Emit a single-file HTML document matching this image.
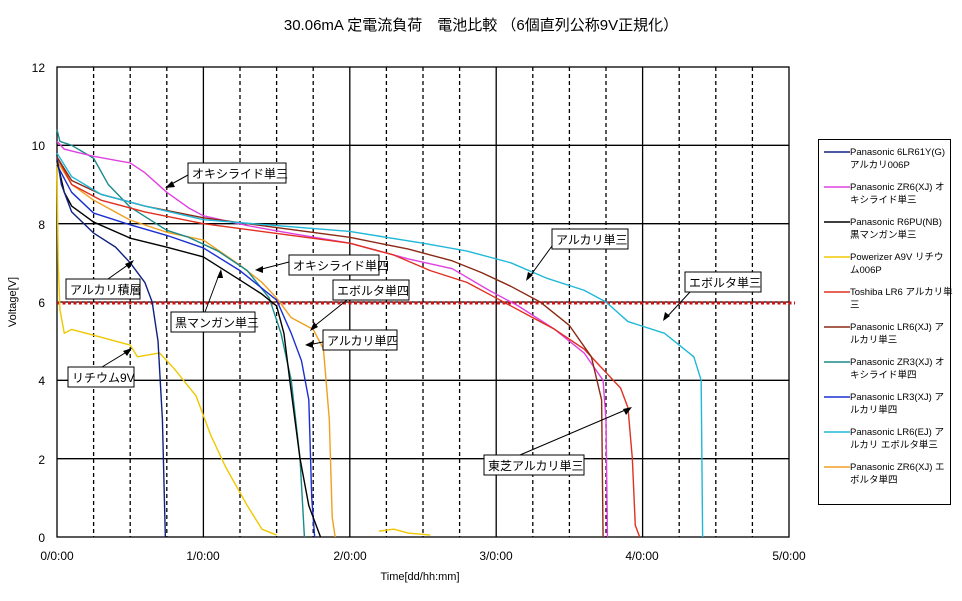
<!DOCTYPE html>
<html><head><meta charset="utf-8"><style>
body{margin:0;background:#fff;width:962px;height:596px;overflow:hidden}
svg text{font-family:"Liberation Sans","Noto Sans CJK JP",sans-serif;fill:#000}
</style></head><body>
<svg width="962" height="596" viewBox="0 0 962 596" xmlns="http://www.w3.org/2000/svg">
<text x="481" y="30" font-size="15" text-anchor="middle">30.06mA 定電流負荷　電池比較 （6個直列公称9V正規化）</text>
<g stroke="#000" stroke-width="1.3" stroke-dasharray="4,3">
<line x1="93.6" y1="67" x2="93.6" y2="537"/><line x1="130.2" y1="67" x2="130.2" y2="537"/><line x1="166.8" y1="67" x2="166.8" y2="537"/>
<line x1="240" y1="67" x2="240" y2="537"/><line x1="276.6" y1="67" x2="276.6" y2="537"/><line x1="313.2" y1="67" x2="313.2" y2="537"/>
<line x1="386.4" y1="67" x2="386.4" y2="537"/><line x1="423" y1="67" x2="423" y2="537"/><line x1="459.6" y1="67" x2="459.6" y2="537"/>
<line x1="532.8" y1="67" x2="532.8" y2="537"/><line x1="569.4" y1="67" x2="569.4" y2="537"/><line x1="606" y1="67" x2="606" y2="537"/>
<line x1="679.2" y1="67" x2="679.2" y2="537"/><line x1="715.8" y1="67" x2="715.8" y2="537"/><line x1="752.4" y1="67" x2="752.4" y2="537"/>
</g>
<g stroke="#000" stroke-width="1.3">
<line x1="203.4" y1="67" x2="203.4" y2="537"/><line x1="349.8" y1="67" x2="349.8" y2="537"/><line x1="496.2" y1="67" x2="496.2" y2="537"/><line x1="642.6" y1="67" x2="642.6" y2="537"/>
<line x1="57" y1="145.3" x2="789" y2="145.3"/><line x1="57" y1="223.7" x2="789" y2="223.7"/><line x1="57" y1="302" x2="789" y2="302"/><line x1="57" y1="380.3" x2="789" y2="380.3"/><line x1="57" y1="458.7" x2="789" y2="458.7"/>
<rect x="57" y="67" width="732" height="470" fill="none"/>
</g>
<g font-size="12" text-anchor="end">
<text x="45" y="72">12</text><text x="45" y="150">10</text><text x="45" y="229">8</text><text x="45" y="307">6</text><text x="45" y="385">4</text><text x="45" y="464">2</text><text x="45" y="542">0</text>
</g>
<g font-size="12" text-anchor="middle">
<text x="57" y="560">0/0:00</text><text x="203" y="560">1/0:00</text><text x="350" y="560">2/0:00</text><text x="496" y="560">3/0:00</text><text x="642" y="560">4/0:00</text><text x="789" y="560">5/0:00</text>
</g>
<text x="420" y="580" font-size="11" text-anchor="middle">Time[dd/hh:mm]</text>
<text transform="translate(16,302) rotate(-90)" font-size="11" text-anchor="middle">Voltage[V]</text>
<line x1="57" y1="303" x2="795" y2="303" stroke="#d01010" stroke-width="3" stroke-dasharray="3,2.5"/>
<g transform="translate(57,537) scale(146.4,-39.17)" fill="none" stroke-width="1.4" stroke-linejoin="round">
<polyline vector-effect="non-scaling-stroke" stroke="#f0c800" points="0,9.6 0.008,7 0.02,5.8 0.05,5.2 0.1,5.3 0.3,5.1 0.5,4.9 0.55,4.6 0.7,4.7 0.8,4.3 0.95,3.6 1.05,2.6 1.15,1.8 1.3,0.8 1.4,0.2 1.5,0.05"/>
<polyline vector-effect="non-scaling-stroke" stroke="#f0c800" points="2.2,0.15 2.3,0.2 2.4,0.1 2.55,0.05"/>
<polyline vector-effect="non-scaling-stroke" stroke="#f0a020" points="0,9.6 0.1,9.0 0.25,8.6 0.5,8.09 0.75,7.78 1.0,7.58 1.25,6.94 1.4,6.5 1.5,6.1 1.6,5.6 1.75,5.3 1.82,4.8 1.86,3 1.88,0.5 1.9,0"/>
<polyline vector-effect="non-scaling-stroke" stroke="#1a8a8a" points="0,10.4 0.02,10.1 0.1,10.0 0.25,9.67 0.35,9.0 0.5,8.42 0.75,7.83 0.9,7.65 1.1,7.3 1.3,6.8 1.45,6.1 1.53,5.2 1.6,4.0 1.66,2 1.69,0"/>
<polyline vector-effect="non-scaling-stroke" stroke="#1a30d0" points="0,9.5 0.1,8.8 0.25,8.27 0.5,7.97 0.75,7.7 1.0,7.38 1.25,6.8 1.5,6.05 1.6,5.2 1.67,4.5 1.72,3.5 1.74,1 1.76,0"/>
<polyline vector-effect="non-scaling-stroke" stroke="#000" points="0,9.6 0.05,8.8 0.1,8.45 0.25,8.04 0.5,7.63 0.75,7.4 1.0,7.15 1.25,6.56 1.4,6.2 1.5,5.9 1.55,5.2 1.59,4.0 1.66,2 1.72,0.8 1.8,0"/>
<polyline vector-effect="non-scaling-stroke" stroke="#102080" points="0,9.7 0.03,9 0.1,8.3 0.25,7.76 0.4,7.4 0.5,7.0 0.6,6.5 0.65,6.0 0.69,5 0.72,3 0.74,0"/>
<polyline vector-effect="non-scaling-stroke" stroke="#e040e0" points="0,10.1 0.05,9.9 0.25,9.72 0.5,9.55 0.6,9.3 0.75,8.8 0.9,8.4 1,8.2 1.3,7.95 1.6,7.75 2,7.5 2.4,7.1 2.7,6.85 2.95,6.3 3.15,5.9 3.4,5.3 3.6,4.7 3.73,4 3.75,3 3.76,0"/>
<polyline vector-effect="non-scaling-stroke" stroke="#e03020" points="0,9.7 0.1,9 0.3,8.6 0.6,8.3 1,8.0 1.5,7.75 2,7.5 2.3,7.2 2.55,6.8 2.8,6.5 3,6.1 3.2,5.7 3.4,5.3 3.6,4.8 3.75,4.2 3.85,3.8 3.9,3.3 3.93,2 3.95,0.3 3.98,0"/>
<polyline vector-effect="non-scaling-stroke" stroke="#8a2a15" points="0,9.7 0.1,9.1 0.3,8.75 0.6,8.45 1,8.15 1.5,7.9 2,7.65 2.4,7.35 2.7,7.05 2.9,6.75 3.1,6.4 3.3,6.0 3.5,5.4 3.65,4.6 3.72,3.5 3.73,0"/>
<polyline vector-effect="non-scaling-stroke" stroke="#20b8d8" points="0,9.8 0.1,9.2 0.3,8.75 0.6,8.45 1,8.1 1.5,7.95 2,7.8 2.5,7.5 2.8,7.3 3.1,7.0 3.35,6.6 3.6,6.3 3.75,6 3.9,5.5 4.15,5.2 4.35,4.6 4.4,4 4.41,0"/>
</g>
<g font-size="12" stroke-width="1">
<g fill="none" stroke="#000">
<rect x="188" y="163" width="98" height="20" fill="#fff"/>
<rect x="66" y="279" width="74" height="20" fill="#fff"/>
<rect x="289" y="255" width="90" height="20" fill="#fff"/>
<rect x="171" y="312" width="84" height="20" fill="#fff"/>
<rect x="333" y="280" width="76" height="20" fill="#fff"/>
<rect x="323" y="330" width="74" height="20" fill="#fff"/>
<rect x="68" y="367" width="66" height="20" fill="#fff"/>
<rect x="552" y="229" width="76" height="20" fill="#fff"/>
<rect x="685" y="272" width="76" height="20" fill="#fff"/>
<rect x="484" y="455" width="100" height="20" fill="#fff"/>
<line x1="188" y1="175" x2="168" y2="186"/><line x1="108" y1="279" x2="132" y2="262"/>
<line x1="289" y1="262" x2="258" y2="270"/><line x1="205" y1="312" x2="220" y2="272"/>
<line x1="347" y1="300" x2="312" y2="328"/><line x1="323" y1="342" x2="308" y2="345"/>
<line x1="102" y1="367" x2="130" y2="350"/><line x1="552" y1="246" x2="528" y2="279"/>
<line x1="690" y1="292" x2="665" y2="319"/><line x1="520" y1="455" x2="630" y2="408"/>
</g>
<g fill="#000">
<polygon points="165,188 172,181 175,187"/><polygon points="134,260 125,264 129,269"/>
<polygon points="255,270 263,266 263,273"/><polygon points="221,269 217,278 223,278"/>
<polygon points="310,331 314,322 318,327"/><polygon points="305,345 313,341 313,348"/>
<polygon points="132,348 123,351 127,356"/><polygon points="526,281 528,272 533,275"/>
<polygon points="663,321 665,312 670,316"/><polygon points="632,407 623,409 626,415"/>
</g>
<text x="192" y="178">オキシライド単三</text><text x="70" y="294">アルカリ積層</text>
<text x="293" y="270">オキシライド単四</text><text x="175" y="327">黒マンガン単三</text>
<text x="337" y="295">エボルタ単四</text><text x="327" y="345">アルカリ単四</text>
<text x="72" y="382">リチウム9V</text><text x="556" y="244">アルカリ単三</text>
<text x="689" y="287">エボルタ単三</text><text x="488" y="470">東芝アルカリ単三</text>
</g>
<rect x="818.5" y="139.5" width="132" height="365" fill="#fff" stroke="#000" stroke-width="1"/>
<g font-size="9.5" stroke-width="1.5">
<line x1="824" y1="152" x2="850" y2="152" stroke="#102080"/><text x="850" y="155">Panasonic 6LR61Y(G)</text><text x="850" y="168">アルカリ006P</text>
<line x1="824" y1="187" x2="850" y2="187" stroke="#e040e0"/><text x="850" y="190">Panasonic ZR6(XJ) オ</text><text x="850" y="203">キシライド単三</text>
<line x1="824" y1="222" x2="850" y2="222" stroke="#000"/><text x="850" y="225">Panasonic R6PU(NB)</text><text x="850" y="238">黒マンガン単三</text>
<line x1="824" y1="257" x2="850" y2="257" stroke="#f0c800"/><text x="850" y="260">Powerizer A9V リチウ</text><text x="850" y="273">ム006P</text>
<line x1="824" y1="292" x2="850" y2="292" stroke="#e03020"/><text x="850" y="295">Toshiba LR6 アルカリ単</text><text x="850" y="308">三</text>
<line x1="824" y1="327" x2="850" y2="327" stroke="#8a2a15"/><text x="850" y="330">Panasonic LR6(XJ) ア</text><text x="850" y="343">ルカリ単三</text>
<line x1="824" y1="362" x2="850" y2="362" stroke="#1a8a8a"/><text x="850" y="365">Panasonic ZR3(XJ) オ</text><text x="850" y="378">キシライド単四</text>
<line x1="824" y1="397" x2="850" y2="397" stroke="#1a30d0"/><text x="850" y="400">Panasonic LR3(XJ) ア</text><text x="850" y="413">ルカリ単四</text>
<line x1="824" y1="432" x2="850" y2="432" stroke="#20b8d8"/><text x="850" y="435">Panasonic LR6(EJ) ア</text><text x="850" y="448">ルカリ  エボルタ単三</text>
<line x1="824" y1="467" x2="850" y2="467" stroke="#f0a020"/><text x="850" y="470">Panasonic ZR6(XJ) エ</text><text x="850" y="483">ボルタ単四</text>
</g>
</svg>
</body></html>
